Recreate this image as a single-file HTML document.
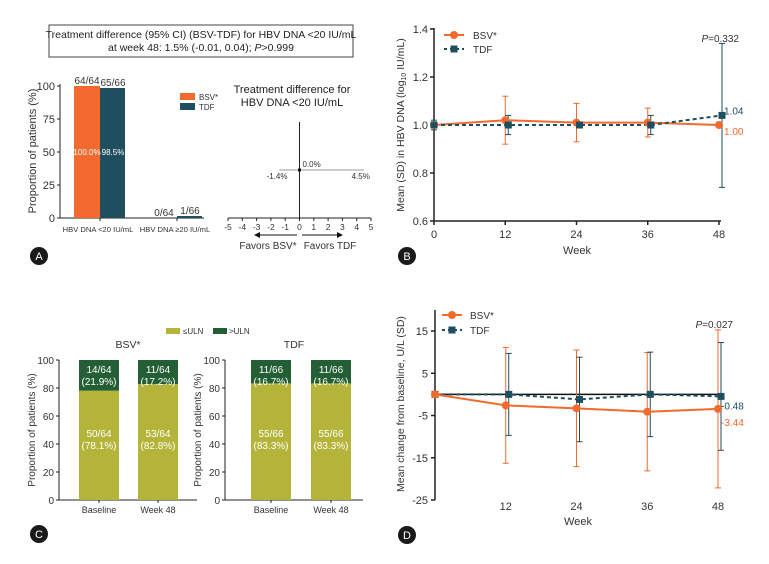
<!DOCTYPE html>
<html><head><meta charset="utf-8">
<style>
html,body{margin:0;padding:0;background:#fff;}
svg{display:block;font-family:"Liberation Sans",Arial,sans-serif;}
</style></head>
<body>
<svg id="fig" width="769" height="564" viewBox="0 0 769 564" xmlns="http://www.w3.org/2000/svg">
<rect width="769" height="564" fill="#fff"/>
<rect x="49" y="25" width="304" height="32" fill="#fff" stroke="#444" stroke-width="1"/>
<text x="201" y="38" font-size="10.5" text-anchor="middle" fill="#222">Treatment difference (95% CI) (BSV-TDF) for HBV DNA &lt;20 IU/mL</text>
<text x="201" y="51" font-size="10.5" text-anchor="middle" fill="#222">at week 48: 1.5% (-0.01, 0.04); <tspan font-style="italic">P</tspan>&gt;0.999</text>
<g id="g"></g>
</svg>
<script>
// ---------- data ----------
const aCategories = ["HBV DNA <20 IU/mL", "HBV DNA \u226520 IU/mL"];
const aBsv = [100.0, 0];
const aTdf = [98.5, 1.5];
const aBsvLbl = ["64/64", "0/64"];
const aTdfLbl = ["65/66", "1/66"];
const aYTicks = [0, 25, 50, 75, 100];
const forestEst = 0.0, forestLo = -1.4, forestHi = 4.5;
const forestTicks = [-5,-4,-3,-2,-1,0,1,2,3,4,5];

const bWeeks = [0, 12, 24, 36, 48];
const bBsv = [1.00, 1.02, 1.01, 1.01, 1.00];
const bBsvSd = [0.0, 0.10, 0.08, 0.06, 0.0];
const bTdf = [1.00, 1.00, 1.00, 1.00, 1.04];
const bTdfSd = [0.02, 0.04, 0.0, 0.04, 0.30];
const bYTicks = [0.6, 0.8, 1.0, 1.2, 1.4];

const cCategories = ["Baseline", "Week 48"];
const cBsvLow = [78.1, 82.8];
const cTdfLow = [83.3, 83.3];
const cBsvLowLbl = ["50/64", "53/64"];
const cBsvHighLbl = ["14/64", "11/64"];
const cTdfLowLbl = ["55/66", "55/66"];
const cTdfHighLbl = ["11/66", "11/66"];
const cYTicks = [0, 20, 40, 60, 80, 100];

const dWeeks = [0, 12, 24, 36, 48];
const dBsv = [0, -2.6, -3.3, -4.1, -3.44];
const dBsvSd = [0, 13.7, 13.8, 14.0, 18.7];
const dTdf = [0, 0, -1.2, 0, -0.48];
const dTdfSd = [0, 9.7, 10.0, 10.0, 12.75];
const dYTicks = [-25, -15, -5, 5, 15];

// ---------- helpers ----------
const NS = "http://www.w3.org/2000/svg";
const G = document.getElementById("g");
const OR = "#f26a2e", TE = "#1f4e5f", YG = "#b5b43a", DG = "#235e34", AX = "#222";
function mk(tag, at, parent) {
  const e = document.createElementNS(NS, tag);
  for (const k in at) e.setAttribute(k, at[k]);
  (parent || G).appendChild(e);
  return e;
}
function txt(s, x, y, size, anchor, fill, name, extra) {
  const t = mk("text", Object.assign({x: x, y: y, "font-size": size, "text-anchor": anchor || "start", fill: fill || "#333"}, extra || {}));
  t.textContent = s;
  
  
  return t;
}
function line(x1, y1, x2, y2, stroke, w, name, dash) {
  const l = mk("line", {x1: x1, y1: y1, x2: x2, y2: y2, stroke: stroke, "stroke-width": w});
  if (dash) l.setAttribute("stroke-dasharray", dash);
  
  
  return l;
}
function rect(x, y, w, h, fill, name) {
  const r = mk("rect", {x: x, y: y, width: w, height: h, fill: fill});
  
  
  return r;
}
function badge(x, y, s) {
  const c = mk("circle", {cx: x, cy: y, r: 9, fill: "#1a1a1a"});
  
  
  txt(s, x, y + 4, 11, "middle", "#fff", "panel-letter-" + s);
}

// ---------- Panel A bars ----------
(function(){
  const y = v => 218 - (v / 100) * 132;
  line(60, 84, 60, 218, AX, 1, "a-y-axis");
  line(60, 218, 204, 218, AX, 1, "a-x-axis");
  aYTicks.forEach(t => {
    line(57, y(t), 60, y(t), AX, 1, "a-y-tick");
    txt(String(t), 55, y(t) + 4, 11, "end", "#333", "a-y-tick-label");
  });
  txt("Proportion of patients (%)", 0, 0, 11, "middle", "#333", "a-y-axis-title", {transform: "translate(36,151) rotate(-90)"});
  const groupX = [74, 151];
  aCategories.forEach((c, i) => {
    const gx = groupX[i];
    if (aBsv[i] > 0) rect(gx, y(aBsv[i]), 26, 218 - y(aBsv[i]), OR, "a-bar-bsv");
    rect(gx + 26, y(aTdf[i]), 25, 218 - y(aTdf[i]), TE, "a-bar-tdf");
    txt(aBsvLbl[i], gx + 13, y(aBsv[i]) - 2, 10, "middle", "#333", "a-bar-label-bsv");
    txt(aTdfLbl[i], gx + 39, y(aTdf[i]) - 2, 10, "middle", "#333", "a-bar-label-tdf");
    line(gx + 26, 218, gx + 26, 221, AX, 1, "a-x-tick");
    txt(c, gx + 24, 232, 7.6, "middle", "#333", "a-x-tick-label");
  });
  txt(aBsv[0].toFixed(1) + "%", 87, y(50) + 3, 8, "middle", "#fff", "a-value-bsv");
  txt(aTdf[0].toFixed(1) + "%", 113, y(50) + 3, 8, "middle", "#fff", "a-value-tdf");
  rect(180, 93, 15, 7, OR, "a-legend-swatch-bsv");
  txt("BSV*", 199, 100, 8, "start", "#333", "a-legend-bsv");
  rect(180, 103, 15, 7, TE, "a-legend-swatch-tdf");
  txt("TDF", 199, 110, 8, "start", "#333", "a-legend-tdf");
})();

// ---------- Panel A forest ----------
(function(){
  const x = v => 299.5 + v * 14.3;
  txt("Treatment difference for", 292, 93, 11, "middle", "#222", "forest-title-1");
  txt("HBV DNA <20 IU/mL", 292, 106, 11, "middle", "#222", "forest-title-2");
  line(x(-5), 218, x(5), 218, AX, 1, "forest-x-axis");
  line(x(0), 122, x(0), 218, AX, 1, "forest-zero-line");
  forestTicks.forEach(t => {
    line(x(t), 218, x(t), 221, AX, 1, "forest-tick");
    txt(String(t), x(t), 230, 8.5, "middle", "#333", "forest-tick-label");
  });
  line(x(forestLo), 170, x(forestHi), 170, "#999", 1, "forest-ci-line");
  rect(x(forestEst) - 1.5, 168.5, 3, 3, "#111", "forest-point");
  txt(forestEst.toFixed(1) + "%", x(forestEst) + 3, 167, 8, "start", "#333", "forest-est-label");
  txt(forestLo.toFixed(1) + "%", x(forestLo) + 8, 179, 8, "end", "#333", "forest-lo-label");
  txt(forestHi.toFixed(1) + "%", x(forestHi) + 6, 179, 8, "end", "#333", "forest-hi-label");
  line(297, 235, 258, 235, "#111", 1, "favors-bsv-arrow");
  mk("path", {d: "M254,235 L260,232 L260,238 Z", fill: "#111"});
  line(302, 235, 339, 235, "#111", 1, "favors-tdf-arrow");
  mk("path", {d: "M343,235 L337,232 L337,238 Z", fill: "#111"});
  txt("Favors BSV*", 268, 249, 10, "middle", "#333", "favors-bsv-label");
  txt("Favors TDF", 330, 249, 10, "middle", "#333", "favors-tdf-label");
})();
badge(39, 256, "A");

// ---------- Panel B ----------
(function(){
  const x = w => 434 + (w / 48) * 285;
  const y = v => 221 - ((v - 0.6) / 0.8) * 192;
  line(434, 28, 434, 221, AX, 1.5, "b-y-axis");
  line(434, 221, 721, 221, AX, 1.5, "b-x-axis");
  bYTicks.forEach(t => {
    line(430, y(t), 434, y(t), AX, 1.5, "b-y-tick");
    txt(t.toFixed(1), 428, y(t) + 4, 11, "end", "#333", "b-y-tick-label");
  });
  bWeeks.forEach(w => {
    line(x(w), 221, x(w), 225, AX, 1.5, "b-x-tick");
    txt(String(w), x(w), 238, 11, "middle", "#333", "b-x-tick-label");
  });
  txt("Week", 577, 254, 11, "middle", "#333", "b-x-axis-title");
  const yt = txt("", 0, 0, 10.5, "middle", "#333", "b-y-axis-title", {transform: "translate(404,125) rotate(-90)"});
  yt.innerHTML = 'Mean (SD) in HBV DNA (log<tspan font-size="7" dy="2">10</tspan><tspan dy="-2"> IU/mL)</tspan>';
  bWeeks.forEach((w, i) => {
    if (bBsvSd[i] > 0) {
      line(x(w), y(bBsv[i] + bBsvSd[i]), x(w), y(bBsv[i] - bBsvSd[i]), OR, 1, "b-err-bsv");
      line(x(w) - 3, y(bBsv[i] + bBsvSd[i]), x(w) + 3, y(bBsv[i] + bBsvSd[i]), OR, 1, "b-err-cap-bsv");
      line(x(w) - 3, y(bBsv[i] - bBsvSd[i]), x(w) + 3, y(bBsv[i] - bBsvSd[i]), OR, 1, "b-err-cap-bsv");
    }
    const xt = x(w) + (i ? 3 : 0);
    if (bTdfSd[i] > 0) {
      line(xt, y(bTdf[i] + bTdfSd[i]), xt, y(bTdf[i] - bTdfSd[i]), TE, 1, "b-err-tdf");
      line(xt - 3, y(bTdf[i] + bTdfSd[i]), xt + 3, y(bTdf[i] + bTdfSd[i]), TE, 1, "b-err-cap-tdf");
      line(xt - 3, y(bTdf[i] - bTdfSd[i]), xt + 3, y(bTdf[i] - bTdfSd[i]), TE, 1, "b-err-cap-tdf");
    }
  });
  const pb = mk("polyline", {points: bWeeks.map((w, i) => x(w) + "," + y(bBsv[i])).join(" "), fill: "none", stroke: OR, "stroke-width": 2});
  
  
  const pt = mk("polyline", {points: bWeeks.map((w, i) => (x(w) + (i ? 3 : 0)) + "," + y(bTdf[i])).join(" "), fill: "none", stroke: TE, "stroke-width": 2, "stroke-dasharray": "4,3"});
  
  
  bWeeks.forEach((w, i) => {
    const c = mk("circle", {cx: x(w), cy: y(bBsv[i]), r: 4, fill: OR});
    
    
    rect(x(w) + (i ? 3 : 0) - 3.5, y(bTdf[i]) - 3.5, 7, 7, TE, "b-point-tdf");
  });
  txt(bTdf[4].toFixed(2), 724, y(bTdf[4]) - 1, 10, "start", TE, "b-end-label-tdf");
  txt(bBsv[4].toFixed(2), 724, y(bBsv[4]) + 10, 10, "start", OR, "b-end-label-bsv");
  const pv = txt("", 739, 42, 10, "end", "#333", "b-p-value");
  pv.innerHTML = '<tspan font-style="italic">P</tspan>=0.332';
  line(444, 35, 464, 35, OR, 2, "b-legend-line-bsv");
  mk("circle", {cx: 454, cy: 35, r: 4, fill: OR});
  txt("BSV*", 473, 39, 10, "start", "#333", "b-legend-bsv");
  line(444, 49, 464, 49, TE, 2, "b-legend-line-tdf", "3,3");
  rect(450.5, 45.5, 7, 7, TE, "b-legend-marker-tdf");
  txt("TDF", 473, 53, 10, "start", "#333", "b-legend-tdf");
})();
badge(407, 256, "B");

// ---------- Panel C ----------
(function(){
  rect(166, 328, 14, 6, YG, "c-legend-swatch-low");
  txt("\u2264ULN", 183, 334, 8, "start", "#333", "c-legend-low");
  rect(213, 328, 14, 6, DG, "c-legend-swatch-high");
  txt(">ULN", 229, 334, 8, "start", "#333", "c-legend-high");
  const y = v => 500 - (v / 100) * 140;
  function sub(ax, bars, low, lowLbl, highLbl, title, key) {
    line(ax, 360, ax, 500, AX, 1, "c-y-axis-" + key);
    line(ax, 500, ax + 138, 500, AX, 1, "c-x-axis-" + key);
    cYTicks.forEach(t => {
      line(ax - 3, y(t), ax, y(t), AX, 1, "c-y-tick");
      txt(String(t), ax - 5, y(t) + 4, 10, "end", "#333", "c-y-tick-label");
    });
    txt("Proportion of patients (%)", 0, 0, 10, "middle", "#333", "c-y-axis-title-" + key, {transform: "translate(" + (ax - 24) + ",430) rotate(-90)"});
    txt(title, ax + 69, 348, 10.5, "middle", "#333", "c-title-" + key);
    cCategories.forEach((c, i) => {
      const bx = bars[i];
      rect(bx, y(low[i]), 40, 500 - y(low[i]), YG, "c-bar-low-" + key);
      rect(bx, y(100), 40, y(low[i]) - y(100), DG, "c-bar-high-" + key);
      txt(highLbl[i], bx + 20, y(100) + 13, 10, "middle", "#fff", "c-label-high");
      txt("(" + (100 - low[i]).toFixed(1) + "%)", bx + 20, y(100) + 25, 10, "middle", "#fff", "c-pct-high");
      txt(lowLbl[i], bx + 20, 437, 10, "middle", "#fff", "c-label-low");
      txt("(" + low[i].toFixed(1) + "%)", bx + 20, 449, 10, "middle", "#fff", "c-pct-low");
      line(bx + 20, 500, bx + 20, 503, AX, 1, "c-x-tick");
      txt(c, bx + 20, 513, 9, "middle", "#333", "c-x-tick-label");
    });
  }
  sub(59, [79, 138], cBsvLow, cBsvLowLbl, cBsvHighLbl, "BSV*", "bsv");
  sub(225, [251, 311], cTdfLow, cTdfLowLbl, cTdfHighLbl, "TDF", "tdf");
})();
badge(39, 534, "C");

// ---------- Panel D ----------
(function(){
  const x = w => 435 + (w / 48) * 283;
  const y = v => 500 - ((v + 25) / 40) * 169;
  line(435, 310, 435, 500, AX, 1.5, "d-y-axis");
  dYTicks.forEach(t => {
    line(431, y(t), 435, y(t), AX, 1.5, "d-y-tick");
    txt(String(t), 428, y(t) + 4, 11, "end", "#333", "d-y-tick-label");
  });
  dWeeks.slice(1).forEach(w => txt(String(w), x(w), 510, 11, "middle", "#333", "d-x-tick-label"));
  txt("Week", 578, 525, 11, "middle", "#333", "d-x-axis-title");
  txt("Mean change from baseline, U/L (SD)", 0, 0, 10.5, "middle", "#333", "d-y-axis-title", {transform: "translate(404,404) rotate(-90)"});
  line(435, y(0), 719, y(0), "#111", 1.5, "d-zero-line");
  dWeeks.forEach((w, i) => {
    if (dBsvSd[i] > 0) {
      line(x(w), y(dBsv[i] + dBsvSd[i]), x(w), y(dBsv[i] - dBsvSd[i]), OR, 1, "d-err-bsv");
      line(x(w) - 3, y(dBsv[i] + dBsvSd[i]), x(w) + 3, y(dBsv[i] + dBsvSd[i]), OR, 1, "d-err-cap-bsv");
      line(x(w) - 3, y(dBsv[i] - dBsvSd[i]), x(w) + 3, y(dBsv[i] - dBsvSd[i]), OR, 1, "d-err-cap-bsv");
    }
    const xt = x(w) + (i ? 3 : 0);
    if (dTdfSd[i] > 0) {
      line(xt, y(dTdf[i] + dTdfSd[i]), xt, y(dTdf[i] - dTdfSd[i]), TE, 1, "d-err-tdf");
      line(xt - 3, y(dTdf[i] + dTdfSd[i]), xt + 3, y(dTdf[i] + dTdfSd[i]), TE, 1, "d-err-cap-tdf");
      line(xt - 3, y(dTdf[i] - dTdfSd[i]), xt + 3, y(dTdf[i] - dTdfSd[i]), TE, 1, "d-err-cap-tdf");
    }
  });
  const pt = mk("polyline", {points: dWeeks.map((w, i) => (x(w) + (i ? 3 : 0)) + "," + y(dTdf[i])).join(" "), fill: "none", stroke: TE, "stroke-width": 2, "stroke-dasharray": "4,3"});
  
  
  const pb = mk("polyline", {points: dWeeks.map((w, i) => x(w) + "," + y(dBsv[i])).join(" "), fill: "none", stroke: OR, "stroke-width": 2});
  
  
  dWeeks.forEach((w, i) => {
    rect(x(w) + (i ? 3 : 0) - 3.5, y(dTdf[i]) - 3.5, 7, 7, TE, "d-point-tdf");
    const c = mk("circle", {cx: x(w), cy: y(dBsv[i]), r: 4, fill: OR});
    
    
  });
  txt(dTdf[4].toFixed(2), 721, y(dTdf[4]) + 13, 10, "start", TE, "d-end-label-tdf");
  txt(dBsv[4].toFixed(2), 721, y(dBsv[4]) + 17, 10, "start", OR, "d-end-label-bsv");
  const pv = txt("", 733, 328, 10, "end", "#333", "d-p-value");
  pv.innerHTML = '<tspan font-style="italic">P</tspan>=0.027';
  line(442, 315, 462, 315, OR, 2, "d-legend-line-bsv");
  mk("circle", {cx: 452, cy: 315, r: 4, fill: OR});
  txt("BSV*", 470, 319, 10, "start", "#333", "d-legend-bsv");
  line(442, 330, 462, 330, TE, 2, "d-legend-line-tdf", "3,3");
  rect(448.5, 326.5, 7, 7, TE, "d-legend-marker-tdf");
  txt("TDF", 470, 334, 10, "start", "#333", "d-legend-tdf");
})();
badge(407, 535, "D");
</script>
</body></html>
